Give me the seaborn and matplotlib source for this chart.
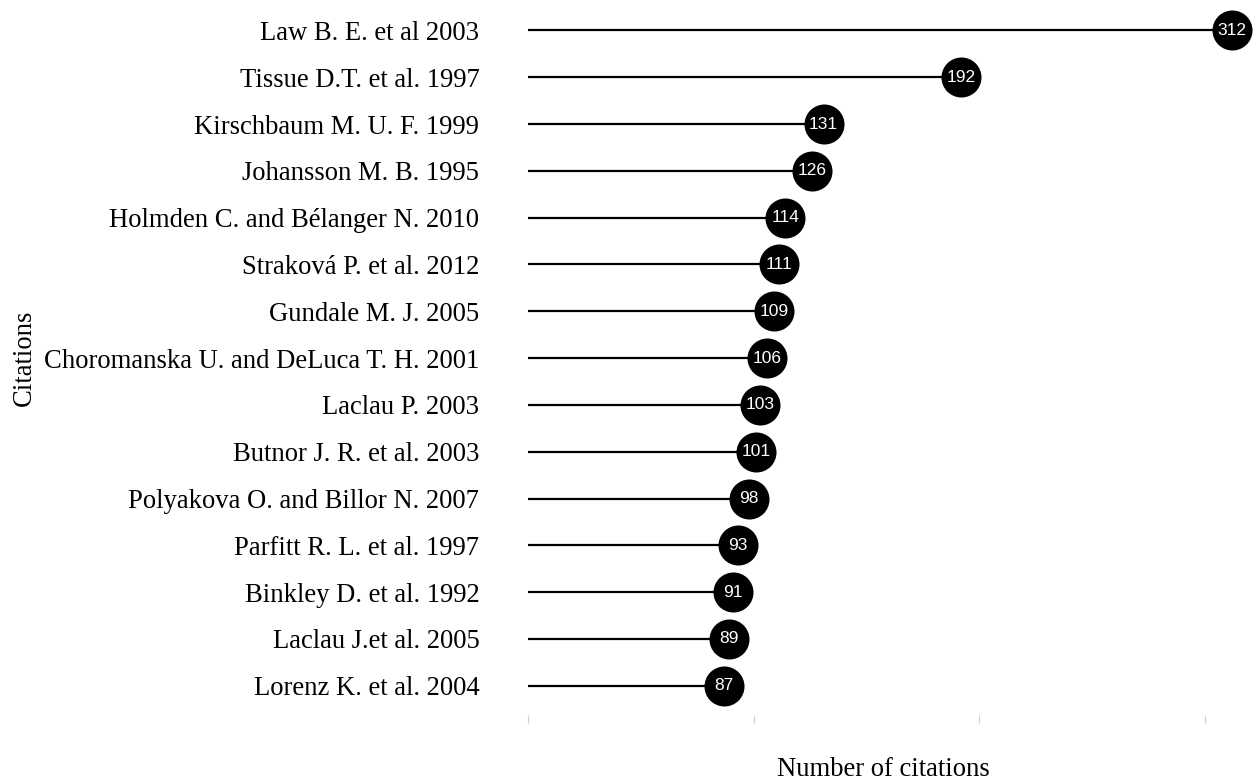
import matplotlib
matplotlib.use("Agg")
import matplotlib.pyplot as plt
import seaborn as sns
import pandas as pd

# ── Data ──────────────────────────────────────────────────────────────────────
papers = [
    "Law B. E. et al 2003",
    "Tissue D.T. et al. 1997",
    "Kirschbaum M. U. F. 1999",
    "Johansson M. B. 1995",
    "Holmden C. and Bélanger N. 2010",
    "Straková P. et al. 2012",
    "Gundale M. J. 2005",
    "Choromanska U. and DeLuca T. H. 2001",
    "Laclau P. 2003",
    "Butnor J. R. et al. 2003",
    "Polyakova O. and Billor N. 2007",
    "Parfitt R. L. et al. 1997",
    "Binkley D. et al. 1992",
    "Laclau J.et al. 2005",
    "Lorenz K. et al. 2004",
]
citations = [312, 192, 131, 126, 114, 111, 109, 106, 103, 101, 98, 93, 91, 89, 87]
x_ticks = [0, 100, 200, 300]

df = pd.DataFrame({"paper": papers, "citations": citations})

# ── Plot ──────────────────────────────────────────────────────────────────────
sns.set_style("white")
plt.rcParams["font.family"] = ["Liberation Serif", "DejaVu Serif"]
plt.rcParams["text.color"] = "black"
plt.rcParams["axes.labelcolor"] = "black"
plt.rcParams["ytick.color"] = "black"

fig, ax = plt.subplots(figsize=(12.55, 7.81), dpi=100)
fig.subplots_adjust(left=0.4207, right=0.998, top=0.991, bottom=0.092)

ypos = list(range(len(df)))
ax.hlines(ypos, 0, df["citations"], color="black", linewidth=1.6, zorder=1)
sns.scatterplot(data=df, x="citations", y="paper", s=830, color="black",
                edgecolor="black", linewidth=0, legend=False, ax=ax, zorder=2)

for y, v in zip(ypos, df["citations"]):
    ax.text(v, y, str(v), color="white", ha="center", va="center",
            fontsize=12.5, family=["Liberation Sans", "DejaVu Sans"], zorder=3)

ax.set_xlim(0, 321)
ax.set_ylim(len(df) - 0.5, -0.5)
ax.set_xticks(x_ticks)
ax.set_xticklabels([])
ax.spines["bottom"].set_position(("outward", 4.3))
ax.tick_params(axis="x", bottom=True, length=6, width=0.8, color="#d0d0d0",
               direction="out", pad=0)
ax.tick_params(axis="y", left=False, length=0, labelsize=19.2, pad=35)
for s in ax.spines.values():
    s.set_visible(False)

ax.set_xlabel("Number of citations", fontsize=19.2, labelpad=24)
ax.xaxis.label.set_x(0.49)
ax.set_ylabel("Citations", fontsize=19.2, labelpad=5)

fig.savefig("out.png", dpi=100, facecolor="white")
